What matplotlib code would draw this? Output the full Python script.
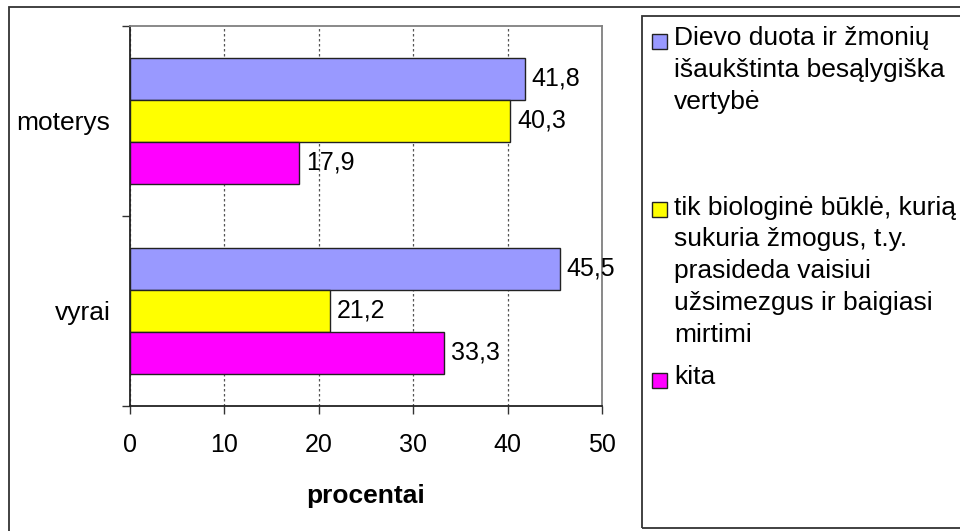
import matplotlib.pyplot as plt
from matplotlib.patches import Rectangle
import numpy as np

plt.rcParams['font.family'] = ['Liberation Sans', 'DejaVu Sans']

categories = ["vyrai", "moterys"]
series_names = [
    "Dievo duota ir žmonių\nišaukštinta besąlygiška\nvertybė",
    "tik biologinė būklė, kurią\nsukuria žmogus, t.y.\nprasideda vaisiui\nužsimezgus ir baigiasi\nmirtimi",
    "kita",
]
dievo = [45.5, 41.8]
biologine = [21.2, 40.3]
kita = [33.3, 17.9]
series_values = [dievo, biologine, kita]
colors = ["#9999FF", "#FFFF00", "#FF00FF"]
xticks = [0, 10, 20, 30, 40, 50]

W, H = 960, 531
fs_txt = 19
fs_num = 18
fig = plt.figure(figsize=(W / 100, H / 100), dpi=100)

# outer chart frame and legend box (pixel coords from top-left)
fig.patches.append(Rectangle((9 / W, -0.05), 1.2, 1 - 7 / H + 0.05, transform=fig.transFigure,
                             fill=False, edgecolor="#333333", linewidth=1.3))
fig.patches.append(Rectangle((642 / W, 1 - 528 / H), 1.2, (528 - 16) / H, transform=fig.transFigure,
                             fill=False, edgecolor="#333333", linewidth=1.3))

ax_top, ax_bot = 25.7, 405.7
ax = fig.add_axes([130 / W, 1 - ax_bot / H, (602 - 130) / W, (ax_bot - ax_top) / H])

y = np.arange(len(categories))
h = 0.221
offsets = [h, 0, -h]
for vals, col, off in zip(series_values, colors, offsets):
    bars = ax.barh(y + off, vals, height=h, color=col, edgecolor="#222222", linewidth=1.0, zorder=3)
    ax.bar_label(bars, labels=[f"{v:.1f}".replace(".", ",") for v in vals],
                 padding=5, fontsize=fs_num, zorder=4)

ax.set_xlim(0, 50)
ax.set_ylim(-0.5, 1.5)
ax.set_xticks(xticks)
ax.set_xticklabels([str(t) for t in xticks], fontsize=fs_num)
ax.set_yticks(y)
ax.set_yticklabels(categories, fontsize=fs_txt)
ax.set_yticks([-0.5, 0.5, 1.5], minor=True)
ax.tick_params(axis="y", which="major", length=0, pad=14)
ax.tick_params(axis="y", which="minor", length=6, width=1, color="#333333", direction="out")
ax.tick_params(axis="x", which="major", length=6, width=1, color="#333333", direction="out", pad=14)
ax.xaxis.grid(True, linestyle=(0, (2, 2)), color="#555555", linewidth=0.9, zorder=0)
ax.set_axisbelow(True)
ax.set_xlabel("procentai", fontsize=fs_txt, fontweight="bold", labelpad=19)

for s in ["left", "bottom"]:
    ax.spines[s].set_color("#222222")
    ax.spines[s].set_linewidth(1.3)
for s in ["top", "right"]:
    ax.spines[s].set_color("#808080")
    ax.spines[s].set_linewidth(1.3)

# legend entries (baseline of first line in pixels from top)
legend_baselines = [47, 216, 386]
for name, col, yb in zip(series_names, colors, legend_baselines):
    fig.patches.append(Rectangle((652 / W, 1 - (yb + 1.5) / H), 15 / W, 15 / H,
                                 transform=fig.transFigure, facecolor=col,
                                 edgecolor="#222222", linewidth=1.0))
    fig.text(674 / W, 1 - (yb - 20.5) / H, name, fontsize=fs_txt, va="top", ha="left",
             linespacing=1.42)

fig.savefig("out.png", dpi=100)
